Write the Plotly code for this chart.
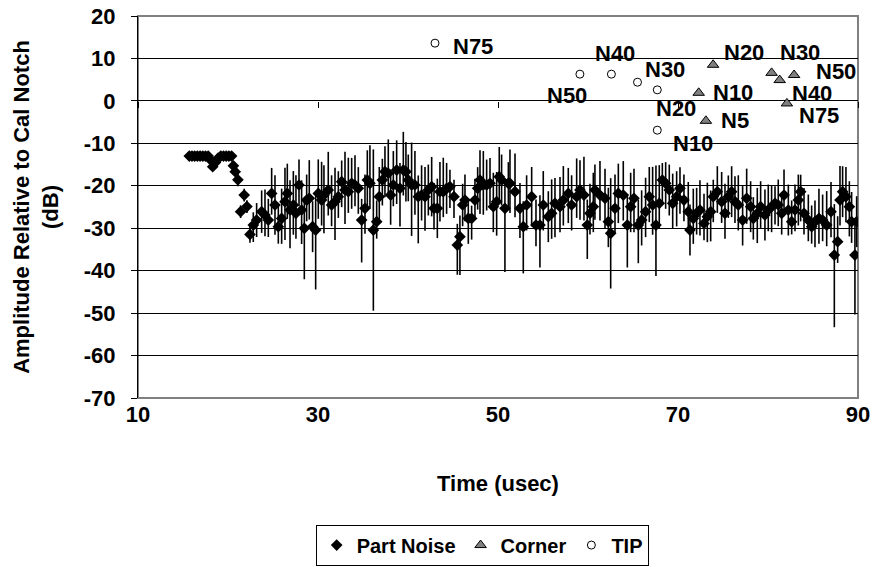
import plotly.graph_objects as go

# ---------------- data ----------------
noise_x = [15.7, 16.0, 16.3, 16.6, 16.9, 17.2, 17.5, 17.8, 18.1, 18.3, 18.6, 18.9, 19.2, 19.5, 19.8, 20.1, 20.4,
           20.6, 20.8, 21.1, 21.4, 21.8, 22.1,
           22.44, 22.81, 23.18, 23.74, 24.11, 24.48, 24.85, 25.22, 25.59, 25.96, 26.33, 26.59, 26.89, 27.26, 27.55,
           27.89, 28.18, 28.48, 28.74, 29.03, 29.40, 29.74, 30.03, 30.40, 30.66, 31.14, 31.51, 31.89, 32.26, 32.63,
           33.0, 33.37, 33.74, 34.11, 34.48, 34.85, 35.22, 35.48, 35.77, 36.15, 36.52, 36.81, 37.15, 37.44, 37.81,
           38.07, 38.37, 38.74, 39.11, 39.48, 39.77, 40.03, 40.40, 40.77, 41.14, 41.51, 41.89, 42.26, 42.63, 42.89,
           43.26, 43.55, 43.92, 44.29, 44.66, 45.11, 45.48, 45.77, 46.07, 46.33, 46.70, 47.07, 47.44, 47.74, 48.0,
           48.37, 48.74, 49.11, 49.48, 49.85, 50.14, 50.4, 50.77, 51.15,
           51.33, 51.89, 52.44, 52.81, 53.18, 53.74, 54.22, 54.66, 55.03, 55.59, 55.96, 56.33, 56.89, 57.26, 57.81,
           58.18, 58.74, 59.11, 59.55, 59.92, 60.22, 60.59, 60.77, 61.33, 61.89, 62.26, 62.52, 63.0, 63.37, 63.92,
           64.37, 64.74, 65.11, 65.59, 65.96, 66.40, 66.81, 67.18, 67.55, 67.92, 68.26, 68.63, 69.03, 69.41, 69.85,
           70.22, 70.66, 71.14, 71.33, 71.70, 72.07, 72.44, 72.89, 73.26, 73.63, 73.92, 74.37, 74.85, 75.22, 75.59,
           75.96, 76.33, 76.70, 77.18, 77.63, 78.07, 78.37, 78.81, 79.18, 79.66, 80.03, 80.40, 80.78, 81.14, 81.52,
           81.78, 82.26, 82.63, 83.0, 83.37, 83.63, 84.0, 84.48, 84.85, 85.22, 85.66, 86.07, 86.52, 87.0, 87.37,
           87.74, 88.0, 88.29, 88.66, 89.04, 89.29, 89.66, 89.85]
noise_y = [-13, -13, -13, -13, -13, -13, -13, -13, -14, -15.5, -14.5, -13.5, -13, -13, -13, -13, -13,
           -15.3, -16.7, -18.6, -26.1, -22.2, -24.9,
           -31.45, -29.25, -28.07, -26.10, -26.89, -28.07, -21.79, -24.53, -29.64, -27.68, -23.75, -21.79, -25.71,
           -24.53, -26.50, -19.82, -25.71, -30.03, -23.36, -22.96, -29.64, -30.43, -21.79, -23.36, -22.18, -21.0,
           -24.53, -23.75, -22.57, -19.04, -21.0, -21.39, -19.43, -19.82, -20.61, -28.07, -25.32, -18.64, -19.43,
           -30.43, -28.46, -22.57, -18.64, -16.68, -17.07, -22.18, -19.82, -16.29, -20.61, -16.29, -16.68, -18.64,
           -19.82, -19.82, -22.57, -22.18, -22.57, -21.0, -20.21, -25.32, -25.32, -21.39, -21.39, -20.61, -20.21,
           -22.57, -33.96, -32.0, -24.53, -23.36, -27.68, -27.68, -23.36, -20.61, -18.64, -19.82, -19.82, -19.43,
           -24.93, -23.75, -17.86, -18.64, -25.32, -19.43,
           -19.43, -21.39, -25.32, -29.64, -24.53, -22.57, -29.25, -29.25, -24.53, -27.28, -26.50, -24.14, -24.93,
           -23.36, -21.79, -24.53, -22.57, -21.0, -22.18, -29.25, -26.50, -24.93, -21.0, -22.18, -22.96, -28.46,
           -31.21, -25.32, -21.79, -22.18, -29.25, -24.93, -22.96, -29.25, -28.07, -26.10, -22.57, -24.53, -29.25,
           -24.14, -18.64, -19.43, -21.0, -24.14, -22.57, -20.61, -23.36, -26.10, -30.43, -27.68, -26.50, -25.71,
           -28.86, -27.28, -26.10, -22.57, -21.39, -23.75, -26.50, -22.57, -21.39, -23.75, -24.53, -28.07, -22.96,
           -24.93, -27.68, -26.50, -24.93, -26.89, -25.71, -24.93, -24.14, -24.53, -26.50, -22.18, -25.71, -28.46,
           -25.71, -23.36, -21.39, -26.50, -28.07, -29.64, -28.46, -27.68, -28.07, -29.25, -26.10, -36.32, -33.18,
           -23.36, -21.39, -22.57, -24.93, -28.46, -36.32, -28.46]
noise_err_plus = [0.3, 0.3, 0.3, 0.3, 0.3, 0.3, 0.3, 0.3, 0.3, 0.3, 0.3, 0.3, 0.3, 0.3, 0.3, 0.3, 0.3,
                  1, 1, 1.5, 1.5, 1.5, 1.5,
                  2, 3, 4, 5, 6, 5, 6, 7, 5, 7, 8, 7, 7, 8, 9, 6, 7, 7, 6, 9, 6, 8, 8, 9, 7, 9, 7, 8, 6, 5,
                  9, 8, 6, 7, 5, 5, 8, 7, 9, 19, 5, 7, 5, 6, 8, 6, 8, 7, 6, 9, 7, 6, 10, 8, 5, 7, 7, 6, 7, 6,
                  7, 7, 8, 6, 4, 4, 5, 5, 5, 6, 4, 3, 5, 5, 7, 8, 6, 6, 8, 7, 7, 6, 6, 5,
                  8, 9, 6, 6, 7, 7, 6, 7, 8, 6, 8, 6, 7, 8, 6, 7, 9, 7, 9, 6, 7, 8, 6, 8, 7, 8, 13, 8, 7, 8,
                  7, 8, 7, 6, 7, 8, 7, 9, 14, 9, 4, 5, 6, 7, 6, 5, 6, 7, 6, 7, 6, 7, 7, 8, 5, 4, 6, 7, 7, 5,
                  6, 6, 7, 8, 7, 6, 5, 6, 6, 6, 6, 5, 4, 6, 5, 6, 6, 5, 6, 6, 4, 6, 6, 5, 5, 7, 6, 8, 7, 12,
                  6, 8, 6, 7, 6, 7, 7, 6]
noise_err_minus = [0.3, 0.3, 0.3, 0.3, 0.3, 0.3, 0.3, 0.3, 0.3, 0.3, 0.3, 0.3, 0.3, 0.3, 0.3, 0.3, 0.3,
                   1, 1, 1.5, 1.5, 1.5, 1.5,
                   2, 4, 4, 5, 5, 4, 5, 7, 4, 6, 9, 6, 9, 7, 6, 5, 8, 12, 5, 5, 6, 14, 6, 6, 9, 6, 5, 9, 5, 6,
                   8, 5, 6, 5, 6, 10, 6, 7, 6, 19, 4, 6, 6, 6, 5, 7, 5, 8, 9, 6, 7, 5, 12, 7, 11, 6, 8, 6, 7, 5,
                   7, 7, 6, 6, 5, 5, 7, 9, 5, 5, 6, 5, 4, 5, 8, 7, 6, 5, 6, 8, 6, 6, 15, 6,
                   7, 6, 7, 11, 6, 7, 5, 10, 6, 6, 6, 8, 6, 6, 7, 6, 5, 7, 6, 8, 5, 6, 7, 6, 7, 6, 13, 6, 7, 6,
                   10, 6, 8, 9, 6, 6, 6, 7, 12, 6, 5, 6, 6, 6, 7, 6, 5, 5, 6, 6, 5, 6, 4, 6, 7, 6, 5, 5, 6, 5,
                   6, 5, 6, 6, 6, 6, 5, 7, 5, 6, 5, 6, 5, 5, 5, 5, 6, 3, 5, 6, 7, 5, 5, 4, 6, 6, 5, 5, 6, 17,
                   5, 6, 6, 6, 7, 5, 14, 6]

corner_labels = ["N20", "N10", "N5", "N30", "N40", "N50", "N75"]
corner_x = [73.9, 72.3, 73.1, 80.4, 81.3, 82.9, 82.1]
corner_y = [8.5, 1.9, -4.7, 6.6, 4.9, 6.1, -0.6]

tip_labels = ["N75", "N50", "N40", "N30", "N20", "N10"]
tip_x = [43.0, 59.1, 62.6, 65.5, 67.7, 67.7]
tip_y = [13.6, 6.3, 6.3, 4.4, 2.6, -6.9]

x_ticks = [10, 30, 50, 70, 90]
y_ticks = [20, 10, 0, -10, -20, -30, -40, -50, -60, -70]
x_range = [10, 90]
y_range = [-70, 20]

# ---------------- styling (label offsets in px) ----------------
corner_offsets = [(31, 12), (34, 0), (29, 0), (28, 20), (32, -13), (42, 4), (32, -12)]
tip_offsets = [(38, -3), (-13, -21), (4, 21), (27, 13), (19, -19), (36, -13)]

FONT = "Liberation Sans, Arial, sans-serif"
FS = 22

fig = go.Figure()

fig.add_trace(go.Scatter(
    x=noise_x, y=noise_y, mode="markers", name="Part Noise",
    marker=dict(symbol="diamond", size=9, color="black"),
    error_y=dict(type="data", symmetric=False, array=noise_err_plus, arrayminus=noise_err_minus,
                 color="black", thickness=1.6, width=0),
))
fig.add_trace(go.Scatter(
    x=corner_x, y=corner_y, mode="markers", name="Corner",
    marker=dict(symbol="triangle-up", size=10, color="#808080", line=dict(color="black", width=1)),
))
fig.add_trace(go.Scatter(
    x=tip_x, y=tip_y, mode="markers", name="TIP",
    marker=dict(symbol="circle", size=8, color="white", line=dict(color="black", width=1)),
))
# helper trace so the x-axis line at y=0 (with its tick marks) is drawn
fig.add_trace(go.Scatter(x=[None], y=[None], xaxis="x2", showlegend=False, hoverinfo="skip"))

annotations = []
for lab, xv, yv, (dx, dy) in zip(corner_labels, corner_x, corner_y, corner_offsets):
    annotations.append(dict(x=xv, y=yv, text=lab, showarrow=False, xshift=dx, yshift=dy, borderpad=0,
                            font=dict(family=FONT, size=FS, color="black", weight="bold")))
for lab, xv, yv, (dx, dy) in zip(tip_labels, tip_x, tip_y, tip_offsets):
    annotations.append(dict(x=xv, y=yv, text=lab, showarrow=False, xshift=dx, yshift=dy, borderpad=0,
                            font=dict(family=FONT, size=FS, color="black", weight="bold")))

zero_pos = (0 - y_range[0]) / (y_range[1] - y_range[0])

fig.update_layout(
    width=875, height=567,
    margin=dict(l=138, r=17, t=16, b=169, autoexpand=False),
    paper_bgcolor="white", plot_bgcolor="white",
    font=dict(family=FONT, size=FS, color="black", weight="bold"),
    showlegend=True,
    legend=dict(orientation="h", x=0.478, y=-0.385, xanchor="center", yanchor="middle",
                bordercolor="black", borderwidth=1, bgcolor="white",
                font=dict(family=FONT, size=20, color="black", weight="bold"),
                itemwidth=30, tracegroupgap=0),
    xaxis=dict(range=x_range, tickvals=x_ticks, ticktext=[str(v) for v in x_ticks],
               showgrid=False, zeroline=False, showline=False, automargin=False,
               ticks="", ticklabelstandoff=1,
               tickfont=dict(family=FONT, size=FS, color="black", weight="bold"),
               title=dict(text="Time (usec)", standoff=49,
                          font=dict(family=FONT, size=FS, color="black", weight="bold"))),
    xaxis2=dict(overlaying="x", anchor="free", position=zero_pos, range=x_range, tickvals=x_ticks,
                ticks="outside", ticklen=6, tickwidth=1, tickcolor="black", showticklabels=False,
                showgrid=False, zeroline=False, showline=False, automargin=False),
    yaxis=dict(range=y_range, tickvals=y_ticks, ticktext=[str(v) for v in y_ticks],
               showgrid=True, gridcolor="black", gridwidth=1, automargin=False,
               zeroline=True, zerolinecolor="black", zerolinewidth=1,
               showline=True, linecolor="black", linewidth=1,
               ticks="outside", ticklen=6, tickcolor="black", ticklabelstandoff=11,
               tickfont=dict(family=FONT, size=FS, color="black", weight="bold"),
               title=dict(text="Amplitude Relative to Cal Notch<br>(dB)", standoff=19,
                          font=dict(family=FONT, size=FS, color="black", weight="bold"))),
    shapes=[dict(type="rect", xref="paper", yref="paper", x0=0, x1=1, y0=0, y1=1,
                 line=dict(color="#808080", width=2), layer="below")],
    annotations=annotations,
)

fig.write_html("out.html")
